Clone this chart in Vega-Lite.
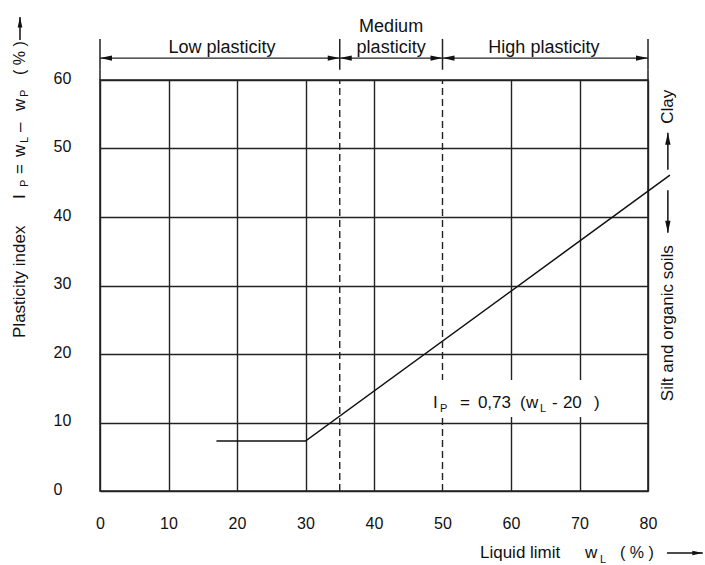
{
  "$schema": "https://vega.github.io/schema/vega-lite/v6.json",
  "width": 548,
  "height": 411,
  "autosize": "none",
  "padding": {"left": 100, "top": 80, "right": 57, "bottom": 74},
  "background": "white",
  "config": {
    "view": {"stroke": "#222", "strokeWidth": 1.6},
    "font": "Liberation Sans",
    "text": {"font": "Liberation Sans", "color": "#111"}
  },
  "datasets": {
    "aline": [
      {"wL": 17, "Ip": 7.3},
      {"wL": 30, "Ip": 7.3},
      {"wL": 83.2, "Ip": 46.1}
    ],
    "limits": [{"wL": 35}, {"wL": 50}],
    "bounds": [{"wL": 0}, {"wL": 35}, {"wL": 50}, {"wL": 80}],
    "zones": [
      {"zone": "Low plasticity", "from": 0, "to": 35, "center": 17.8, "upper": "", "lower": "Low plasticity"},
      {"zone": "Medium plasticity", "from": 35, "to": 50, "center": 42.5, "upper": "Medium", "lower": "plasticity"},
      {"zone": "High plasticity", "from": 50, "to": 80, "center": 64.8, "upper": "", "lower": "High plasticity"}
    ]
  },
  "data": {"values": [{"chart": "Plasticity chart"}]},
  "layer": [
    {
      "data": {"name": "aline"},
      "mark": {"type": "line", "color": "#111", "strokeWidth": 1.5},
      "encoding": {
        "x": {"field": "wL", "type": "quantitative", "scale": {"domain": [0, 80], "nice": false, "zero": false},
          "axis": {"values": [0, 10, 20, 30, 40, 50, 60, 70, 80], "title": null, "domain": false, "ticks": false, "tickSize": 0, "grid": true, "gridColor": "#222", "gridWidth": 1.4,
            "gridOpacity": {"condition": {"test": "datum.value === 50", "value": 0}, "value": 1},
            "labelFont": "Liberation Sans", "labelFontSize": 16, "labelColor": "#111", "labelPadding": 24, "labelFlush": false, "labelOverlap": false, "labelBaseline": "top"}},
        "y": {"field": "Ip", "type": "quantitative", "scale": {"domain": [0, 60], "nice": false, "zero": false},
          "axis": {"values": [0, 10, 20, 30, 40, 50, 60], "title": null, "domain": false, "ticks": false, "tickSize": 0, "grid": true, "gridColor": "#222", "gridWidth": 1.4,
            "labelFont": "Liberation Sans", "labelFontSize": 16, "labelColor": "#111", "labelPadding": 47, "labelAlign": "left", "labelFlush": false, "labelOverlap": false, "labelOffset": -2}}
      }
    },
    {
      "data": {"name": "limits"},
      "mark": {"type": "rule", "color": "#222", "strokeWidth": 1.4, "strokeDash": [7, 4]},
      "encoding": {
        "x": {"field": "wL", "type": "quantitative", "scale": {"domain": [0, 80], "nice": false, "zero": false}},
        "y": {"datum": 0, "type": "quantitative", "scale": {"domain": [0, 60], "nice": false, "zero": false}},
        "y2": {"datum": 60}
      }
    },
    {
      "mark": {"type": "rect", "color": "white", "opacity": 1},
      "encoding": {
        "x": {"datum": 47.3, "type": "quantitative", "scale": {"domain": [0, 80], "nice": false, "zero": false}},
        "x2": {"datum": 75.2},
        "y": {"datum": 10.8, "type": "quantitative", "scale": {"domain": [0, 60], "nice": false, "zero": false}},
        "y2": {"datum": 16.2}
      }
    },
    {"mark": {"type": "text", "text": "I", "align": "left", "baseline": "alphabetic", "dx": 0, "fontSize": 17},
     "encoding": {"x": {"datum": 48.6, "type": "quantitative"}, "y": {"datum": 12.1, "type": "quantitative"}}},
    {"mark": {"type": "text", "text": "P", "align": "left", "baseline": "alphabetic", "dx": 7, "dy": 4, "fontSize": 11},
     "encoding": {"x": {"datum": 48.6, "type": "quantitative"}, "y": {"datum": 12.1, "type": "quantitative"}}},
    {"mark": {"type": "text", "text": "=", "align": "left", "baseline": "alphabetic", "dx": 27, "fontSize": 17},
     "encoding": {"x": {"datum": 48.6, "type": "quantitative"}, "y": {"datum": 12.1, "type": "quantitative"}}},
    {"mark": {"type": "text", "text": "0,73", "align": "left", "baseline": "alphabetic", "dx": 45, "fontSize": 17},
     "encoding": {"x": {"datum": 48.6, "type": "quantitative"}, "y": {"datum": 12.1, "type": "quantitative"}}},
    {"mark": {"type": "text", "text": "(", "align": "left", "baseline": "alphabetic", "dx": 87, "fontSize": 17},
     "encoding": {"x": {"datum": 48.6, "type": "quantitative"}, "y": {"datum": 12.1, "type": "quantitative"}}},
    {"mark": {"type": "text", "text": "w", "align": "left", "baseline": "alphabetic", "dx": 93, "fontSize": 17},
     "encoding": {"x": {"datum": 48.6, "type": "quantitative"}, "y": {"datum": 12.1, "type": "quantitative"}}},
    {"mark": {"type": "text", "text": "L", "align": "left", "baseline": "alphabetic", "dx": 107, "dy": 4, "fontSize": 11},
     "encoding": {"x": {"datum": 48.6, "type": "quantitative"}, "y": {"datum": 12.1, "type": "quantitative"}}},
    {"mark": {"type": "text", "text": "-", "align": "left", "baseline": "alphabetic", "dx": 119, "fontSize": 17},
     "encoding": {"x": {"datum": 48.6, "type": "quantitative"}, "y": {"datum": 12.1, "type": "quantitative"}}},
    {"mark": {"type": "text", "text": "20", "align": "left", "baseline": "alphabetic", "dx": 130, "fontSize": 17},
     "encoding": {"x": {"datum": 48.6, "type": "quantitative"}, "y": {"datum": 12.1, "type": "quantitative"}}},
    {"mark": {"type": "text", "text": ")", "align": "left", "baseline": "alphabetic", "dx": 161, "fontSize": 17},
     "encoding": {"x": {"datum": 48.6, "type": "quantitative"}, "y": {"datum": 12.1, "type": "quantitative"}}},
    {
      "data": {"name": "bounds"},
      "mark": {"type": "rule", "color": "#222", "strokeWidth": 1.5},
      "encoding": {
        "x": {"field": "wL", "type": "quantitative"},
        "y": {"datum": 66, "type": "quantitative"},
        "y2": {"datum": 61.5}
      }
    },
    {
      "data": {"name": "bounds"},
      "transform": [{"filter": "datum.wL === 0 || datum.wL === 80"}],
      "mark": {"type": "rule", "color": "#222", "strokeWidth": 1.5},
      "encoding": {
        "x": {"field": "wL", "type": "quantitative"},
        "y": {"datum": 61.5, "type": "quantitative"},
        "y2": {"datum": 60}
      }
    },
    {
      "data": {"name": "zones"},
      "mark": {"type": "rule", "color": "#222", "strokeWidth": 1.3},
      "encoding": {
        "x": {"field": "from", "type": "quantitative"},
        "x2": {"field": "to"},
        "y": {"datum": 63.2, "type": "quantitative"}
      }
    },
    {
      "data": {"name": "zones"},
      "mark": {"type": "point", "shape": "M0,0L2,-0.45L2,0.45Z", "filled": true, "opacity": 1, "size": 144, "color": "#111", "strokeWidth": 0},
      "encoding": {
        "x": {"field": "from", "type": "quantitative"},
        "y": {"datum": 63.2, "type": "quantitative"}
      }
    },
    {
      "data": {"name": "zones"},
      "mark": {"type": "point", "shape": "M0,0L-2,-0.45L-2,0.45Z", "filled": true, "opacity": 1, "size": 144, "color": "#111", "strokeWidth": 0},
      "encoding": {
        "x": {"field": "to", "type": "quantitative"},
        "y": {"datum": 63.2, "type": "quantitative"}
      }
    },
    {
      "data": {"name": "zones"},
      "mark": {"type": "text", "align": "center", "baseline": "alphabetic", "fontSize": 18},
      "encoding": {
        "text": {"field": "lower"},
        "x": {"field": "center", "type": "quantitative"},
        "y": {"datum": 63.9, "type": "quantitative"}
      }
    },
    {
      "data": {"name": "zones"},
      "mark": {"type": "text", "align": "center", "baseline": "alphabetic", "fontSize": 18},
      "encoding": {
        "text": {"field": "upper"},
        "x": {"field": "center", "type": "quantitative"},
        "y": {"datum": 67.0, "type": "quantitative"}
      }
    },
    {"mark": {"type": "text", "text": "Clay", "angle": 270, "align": "center", "baseline": "middle", "fontSize": 17},
     "encoding": {"x": {"datum": 82.9, "type": "quantitative"}, "y": {"datum": 56.1, "type": "quantitative"}}},
    {"mark": {"type": "text", "text": "Silt and organic soils", "angle": 270, "align": "center", "baseline": "middle", "fontSize": 17},
     "encoding": {"x": {"datum": 82.9, "type": "quantitative"}, "y": {"datum": 24.5, "type": "quantitative"}}},
    {"mark": {"type": "rule", "color": "#111", "strokeWidth": 1.5},
     "encoding": {"x": {"datum": 82.9, "type": "quantitative"}, "y": {"datum": 46.9, "type": "quantitative"}, "y2": {"datum": 52.3}}},
    {"mark": {"type": "point", "shape": "M0,0L-0.45,2L0.45,2Z", "filled": true, "opacity": 1, "size": 144, "color": "#111", "strokeWidth": 0},
     "encoding": {"x": {"datum": 82.9, "type": "quantitative"}, "y": {"datum": 52.3, "type": "quantitative"}}},
    {"mark": {"type": "rule", "color": "#111", "strokeWidth": 1.5},
     "encoding": {"x": {"datum": 82.9, "type": "quantitative"}, "y": {"datum": 43.9, "type": "quantitative"}, "y2": {"datum": 37.7}}},
    {"mark": {"type": "point", "shape": "M0,0L-0.45,-2L0.45,-2Z", "filled": true, "opacity": 1, "size": 144, "color": "#111", "strokeWidth": 0},
     "encoding": {"x": {"datum": 82.9, "type": "quantitative"}, "y": {"datum": 37.7, "type": "quantitative"}}},
    {"mark": {"type": "rule", "color": "#111", "strokeWidth": 1.5},
     "encoding": {"x": {"datum": 82.77, "type": "quantitative"}, "x2": {"datum": 88.0}, "y": {"datum": -9.05, "type": "quantitative"}}},
    {"mark": {"type": "point", "shape": "M0,0L-2,-0.45L-2,0.45Z", "filled": true, "opacity": 1, "size": 110, "color": "#111", "strokeWidth": 0},
     "encoding": {"x": {"datum": 88.0, "type": "quantitative"}, "y": {"datum": -9.05, "type": "quantitative"}}},
    {"mark": {"type": "rule", "color": "#111", "strokeWidth": 1.5},
     "encoding": {"x": {"datum": -11.68, "type": "quantitative"}, "y": {"datum": 65.84, "type": "quantitative"}, "y2": {"datum": 69.2}}},
    {"mark": {"type": "point", "shape": "M0,0L-0.45,2L0.45,2Z", "filled": true, "opacity": 1, "size": 110, "color": "#111", "strokeWidth": 0},
     "encoding": {"x": {"datum": -11.68, "type": "quantitative"}, "y": {"datum": 69.2, "type": "quantitative"}}},
    {"mark": {"type": "text", "text": "Liquid limit", "align": "left", "baseline": "alphabetic", "dx": 0, "fontSize": 17},
     "encoding": {"x": {"datum": 55.47, "type": "quantitative"}, "y": {"datum": -9.78, "type": "quantitative"}}},
    {"mark": {"type": "text", "text": "w", "align": "left", "baseline": "alphabetic", "dx": 105, "fontSize": 17},
     "encoding": {"x": {"datum": 55.47, "type": "quantitative"}, "y": {"datum": -9.78, "type": "quantitative"}}},
    {"mark": {"type": "text", "text": "L", "align": "left", "baseline": "alphabetic", "dx": 120, "dy": 5, "fontSize": 11},
     "encoding": {"x": {"datum": 55.47, "type": "quantitative"}, "y": {"datum": -9.78, "type": "quantitative"}}},
    {"mark": {"type": "text", "text": "( % )", "align": "left", "baseline": "alphabetic", "dx": 140, "fontSize": 16},
     "encoding": {"x": {"datum": 55.47, "type": "quantitative"}, "y": {"datum": -9.78, "type": "quantitative"}}},
    {"mark": {"type": "text", "text": "Plasticity index", "angle": 270, "align": "left", "baseline": "middle", "dx": 0, "fontSize": 17},
     "encoding": {"x": {"datum": -11.68, "type": "quantitative"}, "y": {"datum": 22.34, "type": "quantitative"}}},
    {"mark": {"type": "text", "text": "I", "angle": 270, "align": "left", "baseline": "middle", "dx": 139, "fontSize": 17},
     "encoding": {"x": {"datum": -11.68, "type": "quantitative"}, "y": {"datum": 22.34, "type": "quantitative"}}},
    {"mark": {"type": "text", "text": "P", "angle": 270, "align": "left", "baseline": "middle", "dx": 151, "dy": 5, "fontSize": 11},
     "encoding": {"x": {"datum": -11.68, "type": "quantitative"}, "y": {"datum": 22.34, "type": "quantitative"}}},
    {"mark": {"type": "text", "text": "=", "angle": 270, "align": "left", "baseline": "middle", "dx": 164, "fontSize": 17},
     "encoding": {"x": {"datum": -11.68, "type": "quantitative"}, "y": {"datum": 22.34, "type": "quantitative"}}},
    {"mark": {"type": "text", "text": "w", "angle": 270, "align": "left", "baseline": "middle", "dx": 181, "fontSize": 17},
     "encoding": {"x": {"datum": -11.68, "type": "quantitative"}, "y": {"datum": 22.34, "type": "quantitative"}}},
    {"mark": {"type": "text", "text": "L", "angle": 270, "align": "left", "baseline": "middle", "dx": 195, "dy": 5, "fontSize": 11},
     "encoding": {"x": {"datum": -11.68, "type": "quantitative"}, "y": {"datum": 22.34, "type": "quantitative"}}},
    {"mark": {"type": "text", "text": "–", "angle": 270, "align": "left", "baseline": "middle", "dx": 206, "fontSize": 17},
     "encoding": {"x": {"datum": -11.68, "type": "quantitative"}, "y": {"datum": 22.34, "type": "quantitative"}}},
    {"mark": {"type": "text", "text": "w", "angle": 270, "align": "left", "baseline": "middle", "dx": 227, "fontSize": 17},
     "encoding": {"x": {"datum": -11.68, "type": "quantitative"}, "y": {"datum": 22.34, "type": "quantitative"}}},
    {"mark": {"type": "text", "text": "P", "angle": 270, "align": "left", "baseline": "middle", "dx": 241, "dy": 5, "fontSize": 11},
     "encoding": {"x": {"datum": -11.68, "type": "quantitative"}, "y": {"datum": 22.34, "type": "quantitative"}}},
    {"mark": {"type": "text", "text": "( % )", "angle": 270, "align": "left", "baseline": "middle", "dx": 263, "fontSize": 16},
     "encoding": {"x": {"datum": -11.68, "type": "quantitative"}, "y": {"datum": 22.34, "type": "quantitative"}}}
  ]
}
